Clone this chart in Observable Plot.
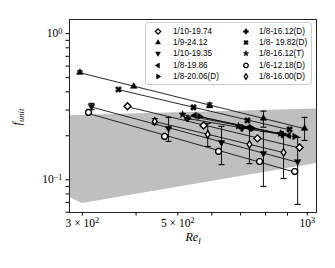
<!DOCTYPE html>
<html><head><meta charset="utf-8">
<script src="https://cdn.jsdelivr.net/npm/d3@7"></script>
<script src="https://cdn.jsdelivr.net/npm/@observablehq/plot@0.6"></script>
<style>
body{margin:0;background:#fff;}
#wrap{position:relative;width:335px;height:268px;overflow:hidden;}
#legend{position:absolute;left:145px;top:22px;width:167px;height:63px;border:1px solid #cccccc;border-radius:3px;background:rgba(255,255,255,0.85);box-sizing:border-box;}
.item{position:absolute;height:11px;font-family:"Liberation Sans",Arial,sans-serif;font-size:8.2px;line-height:11px;color:#000;white-space:pre;}
.item svg{position:absolute;left:0;top:0;}
.item span{position:absolute;top:0;}
</style></head><body><div id="wrap"><div id="chart"></div><div id="legend"></div></div>
<script>
// ---- data ----
const labels = ["1/10-19.74","1/9-24.12","1/10-19.35","1/8-19.86","1/8-20.06(D)","1/8-16.12(D)","1/8- 19.82(D)","1/8-16.12(T)","1/6-12.18(D)","1/8-16.00(D)"];
const s1x=[382,574,766,960],      s1y=[0.318,0.2355,0.192,0.1664];
const s2x=[296,395,593,791,986],  s2y=[0.543,0.436,0.323,0.263,0.2245];
const s2lo=[0.532,null,0.312,0.229,0.186], s2hi=[0.556,null,0.335,0.295,0.267];
const s3x=[315,476,632,791,950],  s3y=[0.318,0.2245,0.180,0.1514,0.1334];
const s3lo=[0.302,0.183,0.127,0.090,0.0678], s3hi=[0.333,0.267,0.232,0.214,0.195];
const s4x=[547,730,905],          s4y=[0.2756,0.228,0.201];
const s5x=[562,746,935],          s5y=[0.2714,0.2245,0.198];
const s6x=[527,705,875],          s6y=[0.263,0.226,0.204];
const s7x=[364,544,726,910],      s7y=[0.415,0.313,0.2548,0.2212];
const s8x=[513,692,867],          s8y=[0.280,0.233,0.2075];
const s9x=[310,466,622,775,935],  s9y=[0.289,0.198,0.1563,0.1334,0.114];
const s10x=[442,587,734,881],     s10y=[0.2508,0.2043,0.1745,0.1538];
const s10lo=[0.240,0.169,0.129,0.102], s10hi=[0.262,0.243,0.2245,0.2075];
const bandX=[280,300,1051], bandLo=[0.0756,0.0689,0.129], bandHi=[0.2744,0.2759,0.305];
const xDomain=[280,1051], yDomain=[0.0597,1.25];
const xTicks=[300,400,500,600,700,800,900,1000];
const xLabelTicks=[300,500,1000], xLabelText=["3 × 10^2","5 × 10^2","10^3"];
const yTicks=[0.06,0.07,0.08,0.09,0.1,0.2,0.3,0.4,0.5,0.6,0.7,0.8,0.9,1];
const yLabelTicks=[1,0.1], yLabelText=["10^0","10^−1"];

// ---- marker shapes ----
function poly(pts){return {draw(ctx,size){const r=Math.sqrt(size/Math.PI);pts.forEach(([a,b],i)=>i?ctx.lineTo(a*r,b*r):ctx.moveTo(a*r,b*r));ctx.closePath();}};}
function regular(n,rot,sx=1){const p=[];for(let k=0;k<n;k++){const t=(rot+360*k/n)*Math.PI/180;p.push([Math.cos(t)*sx,Math.sin(t)]);}return poly(p);}
const w=0.34;
const plusPts=[[-w,-1],[w,-1],[w,-w],[1,-w],[1,w],[w,w],[w,1],[-w,1],[-w,w],[-1,w],[-1,-w],[-w,-w]];
const c45=Math.SQRT1_2;
const xPts=plusPts.map(([a,b])=>[(a-b)*c45,(a+b)*c45]);
const starPts=[];for(let k=0;k<10;k++){const t=(-90+36*k)*Math.PI/180,rr=k%2?0.42:1;starPts.push([Math.cos(t)*rr,Math.sin(t)*rr]);}
const capSym={draw(ctx,size){const r=Math.sqrt(size/Math.PI);ctx.moveTo(-r,0);ctx.lineTo(r,0);}};
const styles=[
  {sym:regular(4,-90),r:3.5,open:true},
  {sym:regular(3,-90),r:3.7,open:false},
  {sym:regular(3,90),r:3.7,open:false},
  {sym:regular(3,180),r:3.7,open:false},
  {sym:regular(3,0),r:3.7,open:false},
  {sym:poly(plusPts),r:3.2,open:false},
  {sym:poly(xPts),r:3.2,open:false},
  {sym:poly(starPts),r:3.7,open:false},
  {sym:regular(8,22.5),r:3.1,open:true},
  {sym:regular(4,-90,0.62),r:3.7,open:true}
];
const seriesX=[s1x,s2x,s3x,s4x,s5x,s6x,s7x,s8x,s9x,s10x];
const seriesY=[s1y,s2y,s3y,s4y,s5y,s6y,s7y,s8y,s9y,s10y];
const errs=[[1,s2x,s2lo,s2hi],[2,s3x,s3lo,s3hi],[9,s10x,s10lo,s10hi]];

// fitted power-law line per series (least squares in log-log)
const fitLines=[];
seriesX.forEach((xs,i)=>{
  const ys=seriesY[i];const lx=xs.map(Math.log),ly=ys.map(Math.log);
  const mx=d3.mean(lx),my=d3.mean(ly);
  const b=d3.sum(lx.map((v,j)=>(v-mx)*(ly[j]-my)))/d3.sum(lx.map(v=>(v-mx)**2));
  const a=my-b*mx;
  const x0=d3.min(xs),x1=d3.max(xs);
  fitLines.push({s:i,x:x0,y:Math.exp(a+b*Math.log(x0))},{s:i,x:x1,y:Math.exp(a+b*Math.log(x1))});
});
const errData=[];
errs.forEach(([s,xs,lo,hi])=>xs.forEach((x,j)=>{if(lo[j]!=null)errData.push({x,lo:lo[j],hi:hi[j]});}));
const capData=errData.flatMap(d=>[{x:d.x,y:d.lo},{x:d.x,y:d.hi}]);
const band=bandX.map((x,i)=>({x,lo:bandLo[i],hi:bandHi[i]}));

const markMarks=styles.map((st,i)=>Plot.dot(seriesX[i].map((x,j)=>({x,y:seriesY[i][j]})),{
  x:"x",y:"y",symbol:st.sym,r:st.r,fill:st.open?"white":"black",stroke:"black",strokeWidth:st.open?1.4:0.6
}));

const plot=Plot.plot({
  width:335,height:268,marginLeft:69,marginRight:19,marginTop:19,marginBottom:56,
  style:{fontFamily:"'Liberation Serif',serif",fontSize:"11.5px",background:"white",color:"black"},
  x:{type:"log",domain:xDomain},
  y:{type:"log",domain:yDomain},
  marks:[
    Plot.areaY(band,{x:"x",y1:"lo",y2:"hi",fill:"#bfbfbf",clip:true}),
    Plot.line(fitLines,{x:"x",y:"y",z:"s",stroke:"#111",strokeWidth:0.9}),
    Plot.ruleX(errData,{x:"x",y1:"lo",y2:"hi",stroke:"#111",strokeWidth:1}),
    Plot.dot(capData,{x:"x",y:"y",symbol:capSym,r:3,stroke:"#111",strokeWidth:1.2,fill:"none"}),
    ...markMarks,
    Plot.frame({stroke:"#222",strokeWidth:1}),
    Plot.axisX(xTicks,{tickSize:3.5,text:null,label:null}),
    Plot.axisY(yTicks,{tickSize:3.5,text:null,label:null}),
    Plot.text(xLabelTicks,{x:d=>d,text:(d,i)=>xLabelText[i],frameAnchor:"bottom",dy:11,fontSize:11.5,lineAnchor:"middle",fill:"black"}),
    Plot.text(yLabelTicks,{y:d=>d,text:(d,i)=>yLabelText[i],frameAnchor:"left",dx:-7,textAnchor:"end",fontSize:11.5,fill:"black"})
  ]
});
document.getElementById("chart").appendChild(plot);
const svg=d3.select(plot);
// superscripts in tick labels
svg.selectAll("text").each(function(){
  const el=this;const t=el.textContent;const i=t.indexOf("^");if(i<0)return;
  const base=t.slice(0,i),ex=t.slice(i+1);
  const sel=d3.select(el);sel.text(null);
  sel.append("tspan").text(base);
  sel.append("tspan").attr("dy","-0.45em").attr("font-size","0.72em").text(ex);
});
// axis titles
const xl=svg.append("text").attr("x",193).attr("y",241).attr("text-anchor","middle")
  .attr("font-family","'Liberation Serif',serif").attr("font-size","12px").attr("font-style","italic");
xl.append("tspan").text("Re");xl.append("tspan").attr("dy","0.3em").attr("font-size","0.72em").text("l");
const yl=svg.append("text").attr("transform","translate(21,117) rotate(-90)").attr("text-anchor","middle")
  .attr("font-family","'Liberation Serif',serif").attr("font-size","12px").attr("font-style","italic");
yl.append("tspan").text("f");yl.append("tspan").attr("dy","0.3em").attr("font-size","0.72em").text("unit");

// legend
const leg=document.getElementById("legend");
const rowsY=[31,42,53.5,65,76.5];
labels.forEach((lab,i)=>{
  const col=i<5?0:1,row=i%5;
  const mx=col?246:157.5, tx=col?259:173;
  const div=document.createElement("div");div.className="item";
  div.style.left=(mx-6-145-1)+"px";div.style.top=(rowsY[row]-5.5-22-1)+"px";
  const st=styles[i];
  const s=d3.create("svg").attr("width",12).attr("height",11);
  s.append("path").attr("transform","translate(6,5.5)")
    .attr("d",d3.symbol(st.sym,Math.PI*(st.r*0.75)**2)())
    .attr("fill",st.open?"white":"black").attr("stroke","black").attr("stroke-width",st.open?1.3:0.6);
  div.appendChild(s.node());
  const sp=document.createElement("span");sp.textContent=lab;sp.style.left=(tx-mx+6)+"px";
  div.appendChild(sp);leg.appendChild(div);
});
</script></body></html>
